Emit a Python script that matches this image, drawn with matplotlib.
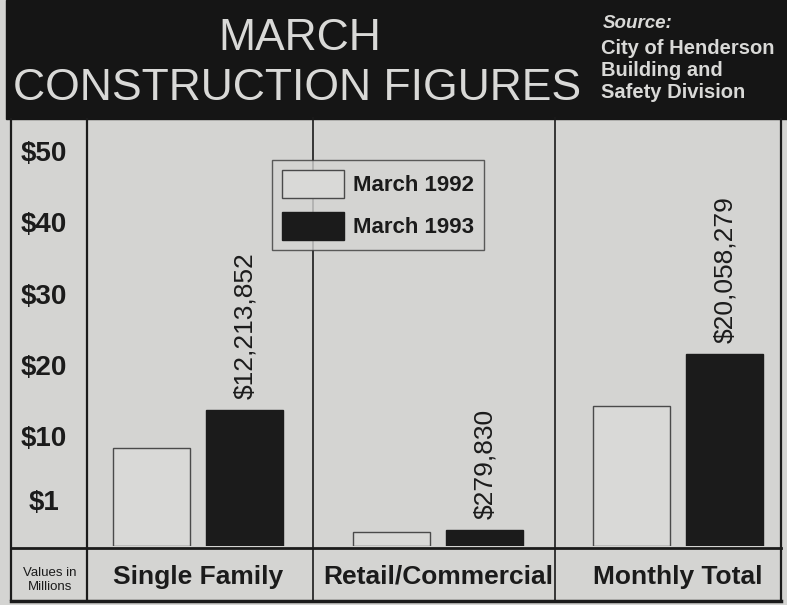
import numpy as np
import matplotlib
matplotlib.use("Agg")
import matplotlib.pyplot as plt
from matplotlib.patches import Rectangle

# -----------------------------
# Data (values in millions of dollars)
# -----------------------------
categories = ["Single Family", "Retail/Commercial", "Monthly Total"]
march_1992 = [6.9, 0.25, 12.8]
march_1993 = [12.213852, 0.279830, 20.058279]
labels_1993 = ["$12,213,852", "$279,830", "$20,058,279"]
series_names = ["March 1992", "March 1993"]
ytick_vals = [1, 10, 20, 30, 40, 50]
ytick_labels = ["$1", "$10", "$20", "$30", "$40", "$50"]

BG = "#d4d4d2"
INK = "#1b1b1b"
BAND = "#151515"
LIGHT = "#d9d9d7"
SANS = ["Liberation Sans", "DejaVu Sans"]


# the original stretches the $0-$1 band, then runs linear above $1
def fwd(v):
    v = np.asarray(v, dtype=float)
    return np.where(v <= 1, v * 7.842, v + 6.842)


def inv(u):
    u = np.asarray(u, dtype=float)
    return np.where(u <= 7.842, u / 7.842, u - 6.842)


W, H = 787, 605
fig = plt.figure(figsize=(W / 100, H / 100), dpi=100, facecolor=BG)

# -----------------------------
# Background frame (pixel coords)
# -----------------------------
bg = fig.add_axes([0, 0, 1, 1], zorder=0)
bg.set_xlim(0, W)
bg.set_ylim(H, 0)
bg.axis("off")
bg.add_patch(Rectangle((6, 0), W - 6, 119, color=BAND))
lk = dict(color=INK, lw=1.6, solid_capstyle="butt")
bg.plot([11, 11], [118, 601], **lk)
bg.plot([781, 781], [118, 601], **lk)
bg.plot([87, 87], [118, 601], **lk)
bg.plot([313, 313], [118, 601], lw=1.2, color=INK)
bg.plot([555, 555], [118, 601], lw=1.2, color=INK)
bg.plot([11, 781], [548, 548], color=INK, lw=2)
bg.plot([11, 781], [601, 601], color=INK, lw=2.5)

# title block
bg.text(300, 38, "MARCH", color=LIGHT, fontsize=32, family=SANS,
        ha="center", va="center")
bg.text(297, 89, "CONSTRUCTION FIGURES", color=LIGHT, fontsize=32,
        family=SANS, ha="center", va="center")
bg.text(603, 24, "Source:", color=LIGHT, fontsize=13.5, family=SANS,
        weight="bold", style="italic", ha="left", va="center")
for i, line in enumerate(["City of Henderson", "Building and", "Safety Division"]):
    bg.text(601, 48 + i * 22, line, color=LIGHT, fontsize=14.5,
            family=SANS, weight="bold", ha="left", va="center")

bg.text(50, 580, "Values in\nMillions", color=INK, fontsize=9.5,
        family=SANS, ha="center", va="center", linespacing=1.15)

# -----------------------------
# Bars
# -----------------------------
ax = fig.add_axes([88 / W, (H - 546) / H, (780 - 88) / W, (546 - 120) / H],
                  zorder=1)
ax.set_facecolor("none")
ax.set_yscale("function", functions=(fwd, inv))

x = np.arange(len(categories))
width = 0.32
ax.bar(x - 0.195, march_1992, width, color=LIGHT, edgecolor="#4a4a4a",
       linewidth=1.0, label=series_names[0])
ax.bar(x + 0.195, march_1993, width, color=INK, edgecolor=INK,
       linewidth=1.0, label=series_names[1])

for xi, v, s in zip(x + 0.195, march_1993, labels_1993):
    ax.annotate(s, (xi, v), xytext=(0, 8), textcoords="offset points",
                rotation=90, ha="center", va="bottom", fontsize=19,
                family=SANS, color=INK)

ax.set_xlim(-0.458, 2.425)
ax.set_ylim(0, 52.95)

ax.set_yticks(ytick_vals)
ax.set_yticklabels(ytick_labels, fontsize=20, weight="bold", family=SANS,
                   color=INK)
ax.tick_params(axis="y", length=0, pad=32)
for t in ax.get_yticklabels():
    t.set_ha("center")
    t.set_va("top")

ax.set_xticks(x)
ax.set_xticklabels(categories, fontsize=19, weight="bold", family=SANS,
                   color=INK)
ax.tick_params(axis="x", length=0, pad=22)
for t in ax.get_xticklabels():
    t.set_va("center")

for sp in ax.spines.values():
    sp.set_visible(False)

leg = ax.legend(loc="upper left", bbox_to_anchor=(272 / W, 1 - 160 / H),
                bbox_transform=fig.transFigure, frameon=True, fancybox=False,
                prop={"weight": "bold", "family": SANS, "size": 16},
                handlelength=2.8, handleheight=1.55, handletextpad=0.4,
                labelspacing=0.65, borderpad=0.45, borderaxespad=0)
leg.get_frame().set_facecolor(BG)
leg.get_frame().set_edgecolor("#3a3a3a")
leg.get_frame().set_linewidth(1.0)
for t in leg.get_texts():
    t.set_color(INK)

fig.savefig("out.png", dpi=100, facecolor=BG)
